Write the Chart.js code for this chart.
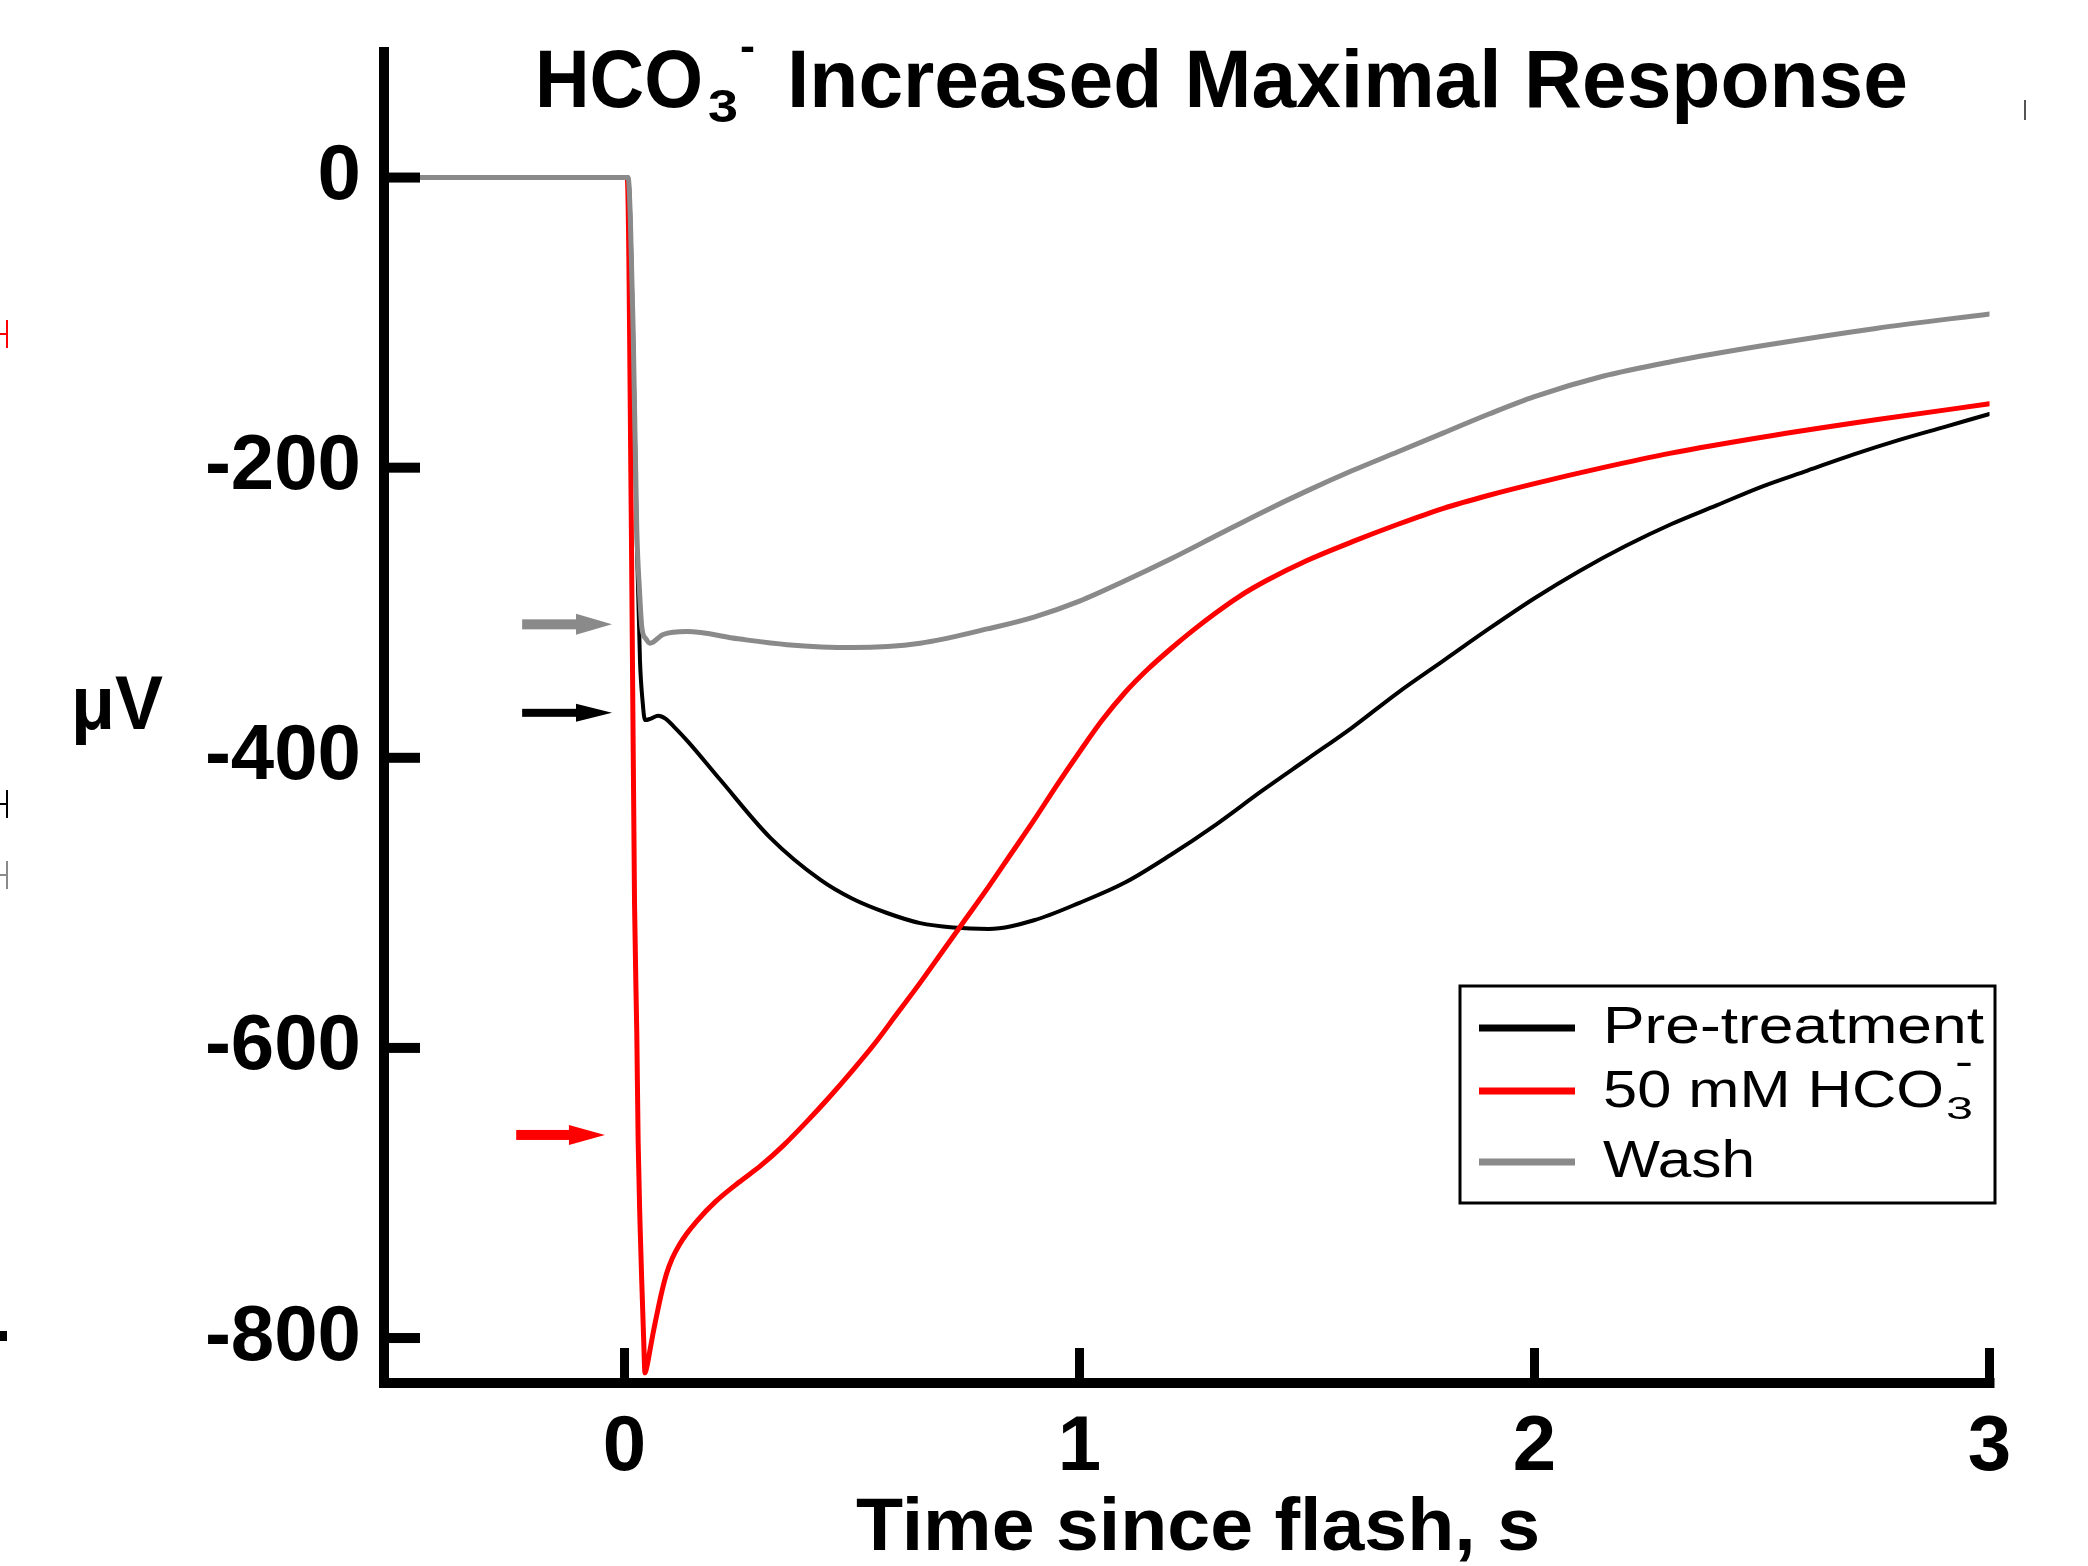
<!DOCTYPE html>
<html>
<head>
<meta charset="utf-8">
<script src="https://cdn.jsdelivr.net/npm/chart.js@4.4.1/dist/chart.umd.min.js"></script>
<style>
  html, body { margin: 0; padding: 0; background: #fff; }
  #wrap { width: 2088px; height: 1566px; position: relative; }
</style>
</head>
<body>
<div id="wrap"><canvas id="c"></canvas></div>
<script>
// ---------------- data ----------------
const seriesLabels = ['Pre-treatment', '50 mM HCO3-', 'Wash'];
const seriesColors = ['#000000', '#ff0000', '#8a8a8a'];

const tPre = [-0.50, 0.0, 0.008, 0.019, 0.027, 0.034, 0.040, 0.045, 0.058, 0.074, 0.090, 0.110, 0.140, 0.210, 0.320, 0.430, 0.500, 0.577, 0.650, 0.722, 0.800, 0.900, 1.000, 1.100, 1.200, 1.300, 1.400, 1.500, 1.600, 1.700, 1.800, 1.900, 2.000, 2.100, 2.200, 2.300, 2.400, 2.500, 2.600, 2.700, 2.800, 2.900, 3.000];
const vPre = [0, 0, 0, -110, -250, -333, -362, -374, -373, -371, -373, -379, -389, -415, -455, -484, -497, -507, -514, -517, -518, -512, -500, -486, -467, -446, -423, -401, -379, -355, -333, -311, -290, -271, -254, -239, -226, -213, -202, -191, -181, -172, -163];

const tHCO = [-0.50, 0.0, 0.006, 0.015, 0.022, 0.027, 0.030, 0.034, 0.038, 0.042, 0.045, 0.049, 0.055, 0.062, 0.071, 0.082, 0.093, 0.105, 0.120, 0.137, 0.160, 0.200, 0.250, 0.300, 0.350, 0.400, 0.450, 0.500, 0.550, 0.600, 0.650, 0.700, 0.750, 0.800, 0.850, 0.900, 0.950, 1.000, 1.050, 1.100, 1.150, 1.200, 1.250, 1.300, 1.350, 1.410, 1.500, 1.600, 1.700, 1.800, 1.900, 2.000, 2.150, 2.300, 2.500, 2.750, 3.000];
const vHCO = [0, 0, 0, -240, -500, -590, -665, -720, -762, -800, -824, -820, -810, -798, -784, -768, -755, -745, -736, -728, -719, -706, -693, -681, -667, -651, -634, -616, -597, -576, -555, -533, -511, -489, -466, -443, -419, -396, -374, -355, -339, -325, -312, -300, -289, -278, -264, -251, -239, -228, -219, -211, -200, -190, -179, -167, -156];

const tWash = [-0.50, 0.0, 0.008, 0.013, 0.019, 0.027, 0.033, 0.038, 0.047, 0.056, 0.085, 0.137, 0.250, 0.357, 0.502, 0.650, 0.800, 0.900, 1.000, 1.100, 1.200, 1.300, 1.400, 1.500, 1.600, 1.700, 1.800, 1.900, 2.000, 2.150, 2.300, 2.500, 2.750, 3.000];
const vWash = [0, 0, 0, -30, -105, -243, -285, -310, -318, -321, -315, -313, -318, -322, -324, -321, -311, -303, -292, -278, -263, -247, -231, -216, -202, -189, -176, -163, -151, -137, -127, -116, -104, -94];

const xTicks = [0, 1, 2, 3];
const xTickLabels = ['0', '1', '2', '3'];
const yTicks = [0, -200, -400, -600, -800];
const yTickLabels = ['0', '-200', '-400', '-600', '-800'];

// arrows marking amplitudes (data coordinates)
const arrowY = [-308, -369, -660];
const arrowX0 = [-0.225, -0.225, -0.238];
const arrowX1 = [-0.0275, -0.0275, -0.043];
const arrowColors = ['#8a8a8a', '#000000', '#ff0000'];

// ---------------- helpers ----------------
const FAM = "'Liberation Sans', Arial, Helvetica, sans-serif";
function pts(ts, vs) { return ts.map((t, i) => ({ x: t, y: vs[i] })); }
function fitText(ctx, text, x, y, font, targetW) {
  ctx.font = font;
  const w = ctx.measureText(text).width;
  ctx.save();
  ctx.translate(x, y);
  ctx.scale(targetW / w, 1);
  ctx.textAlign = 'left';
  ctx.textBaseline = 'alphabetic';
  ctx.fillText(text, 0, 0);
  ctx.restore();
}

const deco = {
  id: 'deco',
  beforeDraw(chart) {
    const c = chart.ctx;
    c.save(); c.fillStyle = '#fff'; c.fillRect(0, 0, chart.width, chart.height); c.restore();
  },
  afterDraw(chart) {
    const ctx = chart.ctx, xs = chart.scales.x, ys = chart.scales.y, a = chart.chartArea;
    ctx.save();
    ctx.fillStyle = '#000';
    // axis lines
    ctx.fillRect(a.left - 5, a.top, 10, a.bottom - a.top + 5);
    ctx.fillRect(a.left - 5, a.bottom - 5, a.right + 5 - (a.left - 5), 10);
    // inward ticks
    yTicks.forEach(v => { const py = ys.getPixelForValue(v); ctx.fillRect(a.left, py - 5, 36, 10); });
    xTicks.forEach(v => { const px = xs.getPixelForValue(v); ctx.fillRect(px - 4.5, a.bottom - 35, 9, 35); });

    // arrows
    const shafts = [10, 8, 10], heads = [21, 18, 20];
    arrowY.forEach((v, i) => {
      const y = ys.getPixelForValue(v);
      const x0 = xs.getPixelForValue(arrowX0[i]);
      const x1 = xs.getPixelForValue(arrowX1[i]);
      const hl = 36;
      ctx.fillStyle = arrowColors[i];
      ctx.fillRect(x0, y - shafts[i] / 2, x1 - hl - x0 + 1, shafts[i]);
      ctx.beginPath();
      ctx.moveTo(x1 - hl, y - heads[i] / 2);
      ctx.lineTo(x1, y);
      ctx.lineTo(x1 - hl, y + heads[i] / 2);
      ctx.closePath();
      ctx.fill();
    });

    // title
    ctx.fillStyle = '#000';
    fitText(ctx, 'HCO', 535, 107, 'bold 81px ' + FAM, 168);
    fitText(ctx, '3', 708, 122, 'bold 47px ' + FAM, 30);
    fitText(ctx, '-', 740, 61, 'bold 45px ' + FAM, 15);
    fitText(ctx, 'Increased Maximal Response', 787, 107, 'bold 81px ' + FAM, 1121);

    // axis titles
    fitText(ctx, 'μV', 71, 729, 'bold 76px ' + FAM, 92);
    fitText(ctx, 'Time since flash, s', 856, 1550, 'bold 74px ' + FAM, 684);

    // legend
    ctx.strokeStyle = '#000';
    ctx.lineWidth = 3;
    ctx.strokeRect(1460, 986, 535, 217);
    const lineYs = [1028, 1091, 1162];
    const baseYs = [1043, 1107, 1177];
    const mains = ['Pre-treatment', '50 mM HCO', 'Wash'];
    const mainW = [381, 341, 152];
    chart.data.datasets.forEach((ds, i) => {
      ctx.fillStyle = ds.borderColor;
      ctx.fillRect(1479, lineYs[i] - 3.5, 96, 7);
      ctx.fillStyle = '#000';
      fitText(ctx, mains[i], 1603, baseYs[i], '52px ' + FAM, mainW[i]);
    });
    fitText(ctx, '3', 1946, 1119, '31px ' + FAM, 27);
    fitText(ctx, '-', 1955, 1075, '40px ' + FAM, 18);

    // fragments of a neighbouring panel at the left edge
    const frag = [['#ff0000', 334], ['#000000', 804], ['#8a8a8a', 875]];
    frag.forEach(([col, y]) => {
      ctx.fillStyle = col;
      ctx.fillRect(0, y - 1, 8, 2);
      ctx.fillRect(6, y - 14, 2, 28);
    });
    ctx.fillStyle = '#000';
    ctx.fillRect(0, 1331, 7, 10);
    ctx.fillStyle = '#555';
    ctx.fillRect(2024, 100, 2, 20);
    ctx.restore();
  }
};

new Chart(document.getElementById('c'), {
  type: 'line',
  data: {
    datasets: [
      { label: seriesLabels[0], data: pts(tPre, vPre), borderColor: seriesColors[0], borderWidth: 4, order: 2 },
      { label: seriesLabels[1], data: pts(tHCO, vHCO), borderColor: seriesColors[1], borderWidth: 5, order: 1 },
      { label: seriesLabels[2], data: pts(tWash, vWash), borderColor: seriesColors[2], borderWidth: 5, order: 0 }
    ]
  },
  options: {
    responsive: true,
    maintainAspectRatio: false,
    animation: false,
    events: [],
    devicePixelRatio: 1,
    layout: { padding: { left: 0, right: 98.5, top: 47, bottom: 0 } },
    elements: {
      point: { radius: 0 },
      line: { cubicInterpolationMode: 'monotone', borderCapStyle: 'round', borderJoinStyle: 'round', fill: false }
    },
    plugins: { legend: { display: false }, tooltip: { enabled: false }, title: { display: false } },
    scales: {
      x: {
        type: 'linear', min: -0.5286, max: 3.0,
        grid: { display: false, drawTicks: false },
        border: { display: false },
        afterBuildTicks: s => { s.ticks = xTicks.map(v => ({ value: v })); },
        afterFit: s => { s.height = 183; s.paddingLeft = 0; s.paddingRight = 0; },
        ticks: {
          padding: 19, color: '#000', maxRotation: 0, autoSkip: false,
          font: { family: FAM, size: 78, weight: 'bold' },
          callback: (v, i) => xTickLabels[i]
        }
      },
      y: {
        type: 'linear', min: -831, max: 90,
        grid: { display: false, drawTicks: false },
        border: { display: false },
        afterBuildTicks: s => { s.ticks = yTicks.map(v => ({ value: v })); },
        afterFit: s => { s.width = 384; s.paddingTop = 0; s.paddingBottom = 0; },
        ticks: {
          padding: 23, color: '#000', autoSkip: false,
          font: { family: FAM, size: 78, weight: 'bold' },
          callback: (v, i) => yTickLabels[i]
        }
      }
    }
  },
  plugins: [deco]
});
</script>
</body>
</html>
